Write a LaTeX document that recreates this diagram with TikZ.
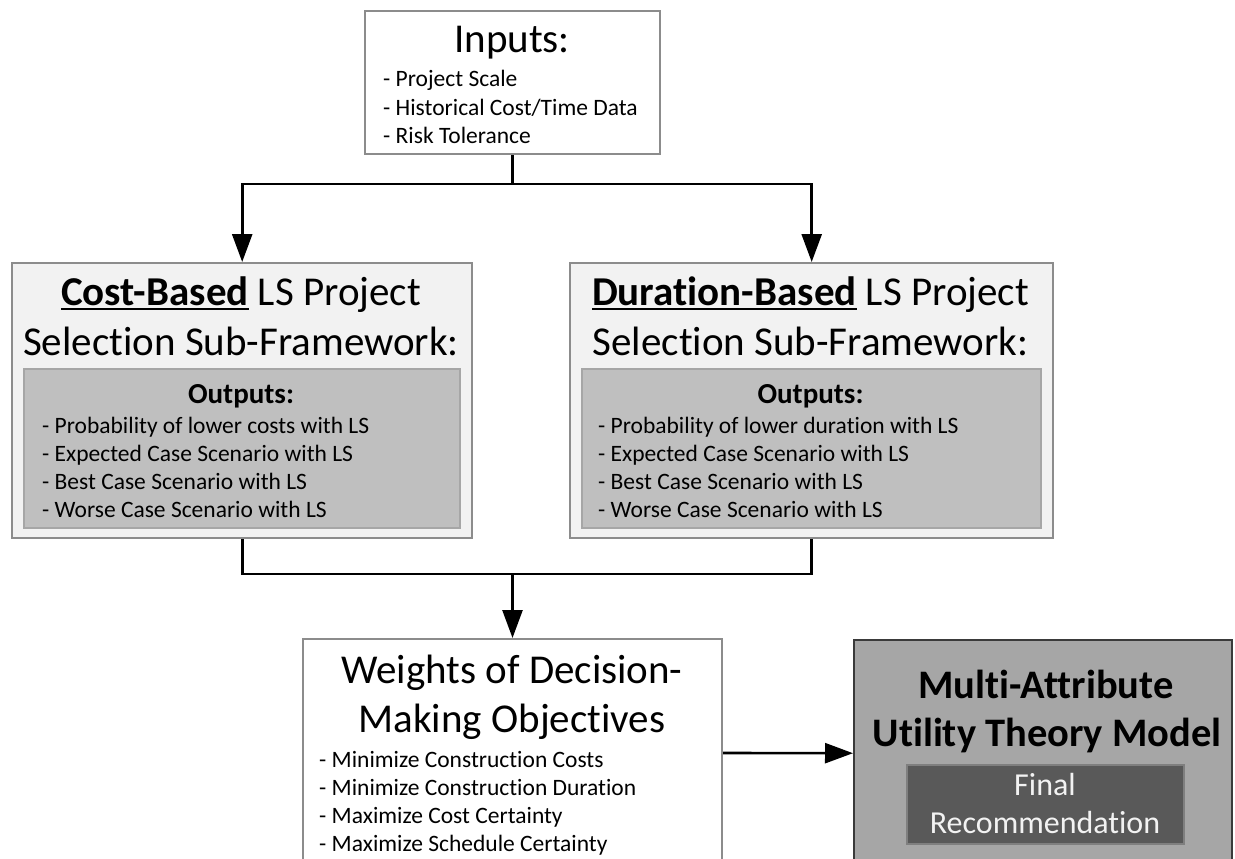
\documentclass[tikz,border=0pt]{standalone}
\usepackage{fontspec}
\setmainfont{Carlito}[Ligatures=NoCommon]
\usetikzlibrary{arrows.meta}

\definecolor{edgegray}{HTML}{8C8C8C}
\definecolor{panelfill}{HTML}{F2F2F2}
\definecolor{outfill}{HTML}{BFBFBF}
\definecolor{outedge}{HTML}{A6A6A6}
\definecolor{mautfill}{HTML}{A6A6A6}
\definecolor{mautedge}{HTML}{3A3A3A}
\definecolor{recfill}{HTML}{595959}
\definecolor{recedge}{HTML}{7F7F7F}
\definecolor{rectext}{HTML}{F2F2F2}

% bold word with a heavy underline
\newcommand\ulbold[1]{\setbox0\hbox{\textbf{#1}}\rlap{\rule[-5pt]{\wd0}{2pt}}\box0\relax}

\begin{document}
\begin{tikzpicture}[x=1pt,y=-1pt,
  box/.style={draw=edgegray, line width=2pt, inner sep=0pt, anchor=north west},
  panel/.style={box, fill=panelfill, line width=2.4pt},
  outbox/.style={box, fill=outfill, draw=outedge},
  mautbox/.style={box, fill=mautfill, draw=mautedge, line width=2.4pt},
  recbox/.style={box, fill=recfill, draw=recedge},
  title/.style={inner sep=0pt, anchor=base, font=\fontsize{41}{49}\selectfont},
  btitle/.style={title, font=\fontsize{40.5}{48}\selectfont\bfseries},
  outhead/.style={inner sep=0pt, anchor=base, font=\fontsize{29}{34}\selectfont\bfseries},
  item/.style={inner sep=0pt, anchor=base west, font=\fontsize{23.5}{28}\selectfont},
  rectxt/.style={inner sep=0pt, anchor=base, text=rectext, font=\fontsize{32}{38}\selectfont},
  link/.style={line width=2.6pt, black},
  arr/.style={link, -{Triangle[length=28pt,width=20pt]}},
]
\useasboundingbox (0,0) rectangle (1235,859);
\clip (0,0) rectangle (1235,859);

% ---------- boxes ----------
\node[box, minimum width=295pt, minimum height=143pt] (inputs) at (364,10) {};
\node[panel, minimum width=460pt, minimum height=275pt] (cost) at (11,262) {};
\node[outbox, minimum width=436pt, minimum height=159pt] (costout) at (23,368) {};
\node[panel, minimum width=483pt, minimum height=275pt] (dur) at (569,262) {};
\node[outbox, minimum width=459pt, minimum height=159pt] (durout) at (581,368) {};
\node[box, minimum width=419pt, minimum height=228pt] (weights) at (302,638) {};
\node[mautbox, minimum width=378pt, minimum height=226pt] (maut) at (853,639) {};
\node[recbox, minimum width=277pt, minimum height=79pt] (rec) at (906,764) {};

% ---------- inputs ----------
\node[title] (intitle) at (512,53) {Inputs:};
\foreach \t [count=\i] in {- Project Scale, - Historical Cost/Time Data, - Risk Tolerance}
  \node[item] (in\i) at (383,{87+28*(\i-1)}) {\t};

% ---------- cost-based sub-framework ----------
\node[title] (costt1) at (241,305) {\ulbold{Cost-Based} LS Project};
\node[title] (costt2) at (241,355) {Selection Sub-Framework:};
\node[outhead] (costoh) at (241,403) {Outputs:};
\foreach \t [count=\i] in {- Probability of lower costs with LS, - Expected Case Scenario with LS,
    - Best Case Scenario with LS, - Worse Case Scenario with LS}
  \node[item] (co\i) at (42,{433+28*(\i-1)}) {\t};

% ---------- duration-based sub-framework ----------
\node[title] (durt1) at (810.5,305) {\ulbold{Duration-Based} LS Project};
\node[title] (durt2) at (810.5,355) {Selection Sub-Framework:};
\node[outhead] (duroh) at (810.5,403) {Outputs:};
\foreach \t [count=\i] in {- Probability of lower duration with LS, - Expected Case Scenario with LS,
    - Best Case Scenario with LS, - Worse Case Scenario with LS}
  \node[item] (do\i) at (598,{433+28*(\i-1)}) {\t};

% ---------- weights ----------
\node[title] (wt1) at (512,683) {Weights of Decision-};
\node[title] (wt2) at (512,732) {Making Objectives};
\foreach \t [count=\i] in {- Minimize Construction Costs, - Minimize Construction Duration,
    - Maximize Cost Certainty, - Maximize Schedule Certainty}
  \node[item] (wi\i) at (319,{767+28.3*(\i-1)}) {\t};

% ---------- MAUT model ----------
\node[btitle] (mt1) at (1046,698) {Multi-Attribute};
\node[btitle] (mt2) at (1047,746) {Utility Theory Model};
\node[rectxt] (rt1) at (1045,795) {Final};
\node[rectxt] (rt2) at (1045,833) {Recommendation};

% ---------- connectors ----------
\draw[link] (inputs.south) -- ++(0,29) coordinate (split);
\draw[arr] (split) -| (cost.north);
\draw[arr] (split) -| (dur.north);
\coordinate (join) at (weights.north |- 0,574);
\draw[link] (cost.south) |- (join) -| (dur.south);
\draw[arr] (join) -- (weights.north);
\draw[arr] (weights.east) -- (maut.west);
\end{tikzpicture}
\end{document}
